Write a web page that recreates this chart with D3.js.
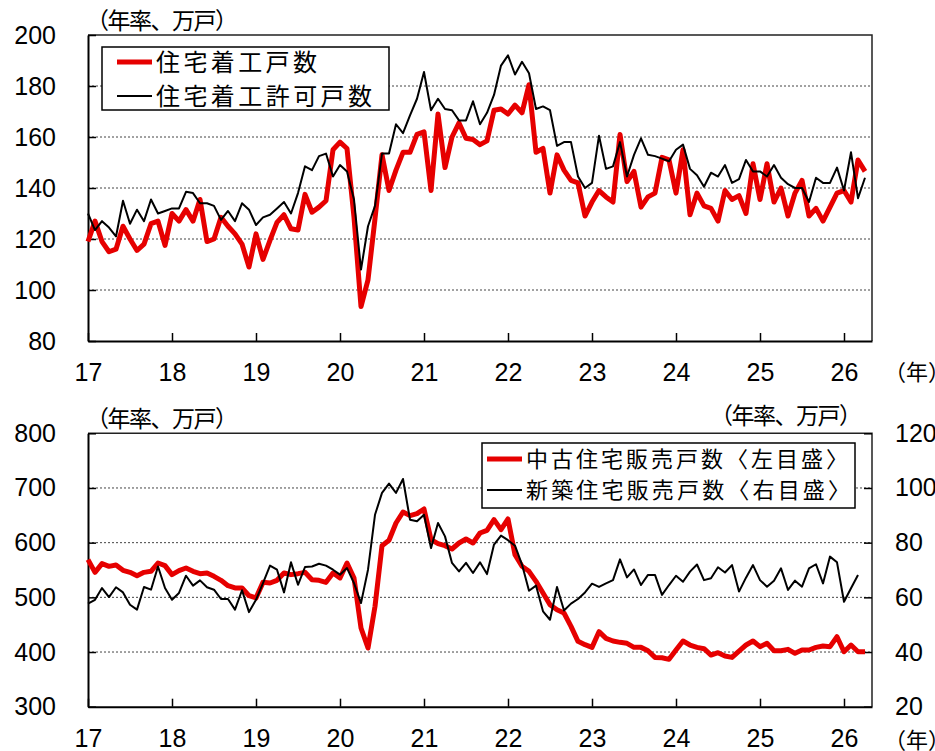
<!DOCTYPE html>
<html><head><meta charset="utf-8">
<script src="https://cdn.jsdelivr.net/npm/d3@7"></script>
<style>
body{margin:0;background:#fff}
svg{display:block}
.num{font-family:"Liberation Sans",Arial,sans-serif;font-size:25px;fill:#000}
.jp{font-family:"Noto Sans CJK JP","Noto Sans CJK SC",sans-serif;fill:#000}
</style>
</head><body>
<svg id="c" width="935" height="751"></svg>
<script>
// ---------- data ----------
const yearTicks = [2017,2018,2019,2020,2021,2022,2023,2024,2025,2026];
const yearLabels = ["17","18","19","20","21","22","23","24","25","26"];
const firstYear = 2017;           // first monthly observation: Jan 2017
const monthsOnAxis = 112;          // axis runs to Apr/May 2026

const topYTicks = [80,100,120,140,160,180,200];
const botLeftTicks = [300,400,500,600,700,800];
const botRightTicks = [20,40,60,80,100,120];

const unitLabel = "（年率、万戸）";
const yearUnit = "（年）";
const topLegend = ["住宅着工戸数","住宅着工許可戸数"];
const botLegend = ["中古住宅販売戸数〈左目盛〉","新築住宅販売戸数〈右目盛〉"];

// 住宅着工戸数 (annual rate, 10k units)
const housingStarts = [
119,127,119,115,116,125,120,115.5,118,126,127,117.5,
130,127,131.5,127,135.5,119,120,128.5,125,122,118,109,
122,112,119.5,126.5,129.5,124,123.5,137.5,130.5,132.5,135,155,
158,155.5,128.5,93.5,104,128,153,139,147,154,154,161,
162,139,169,148,160,165.5,159.5,159,157,158.5,170.5,171,
169,172.5,169.5,180.5,154,155.5,138,153,147,143,142,129,
134.5,139,136.5,134.5,161,142.5,146.5,132.5,136.5,138,152,151,
138,155,129.5,138,133,132,127,139,135.5,137,130,149.5,
135.5,149.5,134.5,140,129,138,143,129,132,127,132.5,138,
139,134.5,151,146.5];

// 住宅着工許可戸数
const buildingPermits = [
130,123.5,127,124.5,121,135,126,131.5,127,135.5,130,131,
132,132,138.5,138,134,134,133,127.5,131,127,134,131.5,
125.5,128.5,129.5,132,134.5,130,138,148.5,147,152.5,153.5,144.5,
149,146.5,135.5,108,125,133,153.5,153.5,165,161.5,168.5,175,
185.5,170.5,175,171,170.5,166.5,166.5,174,165,169.5,176.5,188,
192,184.5,189.5,185,171,172,170.5,156.5,158,158,144.5,140,
142,160.5,147.5,148.5,158,144.5,153,159.5,153,152.5,151.5,150.5,
155,157,147.5,145,140.5,146,144.5,149,142,143.5,151,146.5,
146.5,144.5,149,144,141.5,140,140,134.5,144,142,142,148,
139,154,136,144];

// 中古住宅販売戸数 (left axis)
const existingHomeSales = [
569,545.7,561.6,556.7,559,549.4,545.7,539.6,545.7,547.6,562.8,558,
541.5,548.8,553.7,547.6,543.3,544.5,538.4,531.1,521.3,517.1,517.1,503,
498.8,527.4,526.2,531.1,544.5,541.5,543.3,545.7,532.3,531.1,527.4,544.5,
535.4,562.8,535.4,443.9,407.3,483.5,594.5,604.3,636,656.1,649.4,653,
661.6,605.5,598.2,594.5,588.4,599.4,606.7,599.4,617.7,622.6,642.1,623.8,
643.3,578,556.7,547.6,529.3,507.9,486.6,477.4,471.3,447,419.5,413.4,
408.5,437.2,425,420.1,417.7,415.9,408.5,408.5,402.4,390.2,389.6,386.6,
403.7,420.1,412.8,408.5,406.1,394.5,398.8,392.7,390.2,401.8,412.8,420.1,
409.8,415.9,402.4,402.4,404.9,397.6,403.7,403.7,408.5,411,409.8,428,
400.6,412.8,400.6,400.6];

// 新築住宅販売戸数 (right axis)
const newHomeSales = [
57.7,59.1,63.4,60.1,63.7,61.8,57.3,55.5,63.8,62.8,71.3,63.4,
59.1,61.6,67.9,64.3,66.2,63.7,62.8,59.4,59.4,55.5,62.6,54.6,
59.1,65.2,71.6,70.1,61.8,72.8,64.6,71.1,71.3,72.3,71.6,70.1,
68.3,70.7,65.2,57.9,70.1,90.2,98.2,101.6,98.2,103.3,88.4,87.8,
90.2,78,87.2,82.3,72.6,69.5,72.6,68.9,72.8,68.5,79.3,82.6,
80.9,78.9,72,62.4,64.3,54.9,51.8,63.8,55.2,57.7,59.4,61.8,
65,63.8,65.1,66.3,73.9,67.3,70.2,64.5,68.2,68.2,60.9,64.5,
67.9,65.7,69.4,72,66.3,67,71,69.1,71.8,62.1,67.2,71.8,
66.3,63.9,66.1,70.6,62.7,66.1,63.9,70.6,72.1,65.1,74.9,72.8,
58.4,63.3,68.2];

// ---------- drawing ----------
const RED = "#e60000";
const svg = d3.select("#c");
const L = 88, R = 872;
const x = d3.scaleLinear().domain([firstYear, firstYear + monthsOnAxis/12]).range([L, R]);
const mx = i => x(firstYear + i/12);

function panel(cfg){
  const g = svg.append("g");
  const y = cfg.y;
  g.selectAll("line.grid").data(cfg.yTicks.filter(v => v !== y.domain()[0] && v !== y.domain()[1]))
    .enter().append("line")
    .attr("x1", L).attr("x2", R).attr("y1", d => y(d)).attr("y2", d => y(d))
    .attr("stroke", "#444").attr("stroke-width", 1).attr("stroke-dasharray", "2,2");
  g.append("path").attr("d", `M${L},${cfg.top}H${R}V${cfg.bottom}`)
    .attr("fill","none").attr("stroke","#222").attr("stroke-width",1.5);
  const ax = d3.axisLeft(y).tickValues(cfg.yTicks).tickSize(-8).tickSizeOuter(0).tickPadding(32);
  const ga = g.append("g").attr("transform", `translate(${L},0)`).call(ax);
  ga.select(".domain").attr("stroke","#000").attr("stroke-width",2);
  ga.selectAll(".tick line").attr("stroke","#000").attr("stroke-width",1.5);
  ga.selectAll(".tick text").attr("class","num").attr("font-size",null).attr("font-family",null);
  if (cfg.y2){
    const ar = d3.axisRight(cfg.y2).tickValues(cfg.y2Ticks).tickSize(-8).tickSizeOuter(0).tickPadding(23);
    const gr = g.append("g").attr("transform", `translate(${R},0)`).call(ar);
    gr.select(".domain").remove();
    gr.selectAll(".tick line").attr("stroke","#000").attr("stroke-width",1.5);
    gr.selectAll(".tick text").attr("class","num").attr("font-size",null).attr("font-family",null);
  }
  const bx = d3.axisBottom(x).tickValues(yearTicks).tickSize(-8).tickSizeOuter(0)
    .tickPadding(cfg.labelPad).tickFormat((d,i) => yearLabels[i]);
  const gb = g.append("g").attr("transform", `translate(0,${cfg.bottom})`).call(bx);
  gb.select(".domain").attr("stroke","#000").attr("stroke-width",2);
  gb.selectAll(".tick line").attr("stroke","#000").attr("stroke-width",1.5);
  gb.selectAll(".tick text").attr("class","num").attr("font-size",null).attr("font-family",null);
  return g;
}

// ---- top panel ----
const yTop = d3.scaleLinear().domain([80,200]).range([341,35]);
const gTop = panel({y:yTop, yTicks:topYTicks, top:35, bottom:341, labelPad:22});
const lineTop = d3.line().x((d,i) => mx(i)).y(d => yTop(d));
gTop.append("path").datum(housingStarts).attr("d", lineTop)
  .attr("fill","none").attr("stroke",RED).attr("stroke-width",5).attr("stroke-linejoin","round");
gTop.append("path").datum(buildingPermits).attr("d", lineTop)
  .attr("fill","none").attr("stroke","#000").attr("stroke-width",2).attr("stroke-linejoin","round");

gTop.append("rect").attr("x",102).attr("y",47).attr("width",287).attr("height",63)
  .attr("fill","#fff").attr("stroke","#000").attr("stroke-width",1.5);
gTop.append("line").attr("x1",117).attr("x2",152).attr("y1",62).attr("y2",62).attr("stroke",RED).attr("stroke-width",5);
gTop.append("line").attr("x1",117).attr("x2",152).attr("y1",96).attr("y2",96).attr("stroke","#000").attr("stroke-width",2);
gTop.append("text").attr("class","jp").attr("x",156).attr("y",62).attr("dy","0.36em").attr("font-size",24)
  .attr("textLength",161).attr("lengthAdjust","spacing").text(topLegend[0]);
gTop.append("text").attr("class","jp").attr("x",156).attr("y",96).attr("dy","0.36em").attr("font-size",24)
  .attr("textLength",216).attr("lengthAdjust","spacing").text(topLegend[1]);

svg.append("text").attr("class","jp").attr("x",86).attr("y",21).attr("dy","0.36em").attr("font-size",23)
  .attr("textLength",152).attr("lengthAdjust","spacing").text(unitLabel);
svg.append("text").attr("class","jp").attr("x",884).attr("y",372).attr("dy","0.36em").attr("font-size",22)
  .text(yearUnit);

// ---- bottom panel ----
const yBot = d3.scaleLinear().domain([300,800]).range([706.7,433.3]);
const yBotR = d3.scaleLinear().domain([20,120]).range([706.7,433.3]);
const gBot = panel({y:yBot, yTicks:botLeftTicks, y2:yBotR, y2Ticks:botRightTicks, top:433.3, bottom:706.7, labelPad:23});
gBot.append("path").datum(existingHomeSales)
  .attr("d", d3.line().x((d,i) => mx(i)).y(d => yBot(d)))
  .attr("fill","none").attr("stroke",RED).attr("stroke-width",5).attr("stroke-linejoin","round");
gBot.append("path").datum(newHomeSales)
  .attr("d", d3.line().x((d,i) => mx(i)).y(d => yBotR(d)))
  .attr("fill","none").attr("stroke","#000").attr("stroke-width",2).attr("stroke-linejoin","round");

gBot.append("rect").attr("x",482).attr("y",443).attr("width",373).attr("height",65)
  .attr("fill","#fff").attr("stroke","#000").attr("stroke-width",1.5);
gBot.append("line").attr("x1",487).attr("x2",522).attr("y1",459).attr("y2",459).attr("stroke",RED).attr("stroke-width",5);
gBot.append("line").attr("x1",487).attr("x2",522).attr("y1",490).attr("y2",490).attr("stroke","#000").attr("stroke-width",2);
gBot.append("text").attr("class","jp").attr("x",526).attr("y",459).attr("dy","0.36em").attr("font-size",22)
  .attr("textLength",322).attr("lengthAdjust","spacing").text(botLegend[0]);
gBot.append("text").attr("class","jp").attr("x",526).attr("y",490).attr("dy","0.36em").attr("font-size",22)
  .attr("textLength",324).attr("lengthAdjust","spacing").text(botLegend[1]);

svg.append("text").attr("class","jp").attr("x",86).attr("y",419).attr("dy","0.36em").attr("font-size",23)
  .attr("textLength",152).attr("lengthAdjust","spacing").text(unitLabel);
svg.append("text").attr("class","jp").attr("x",710).attr("y",416).attr("dy","0.36em").attr("font-size",23)
  .attr("textLength",152).attr("lengthAdjust","spacing").text(unitLabel);
svg.append("text").attr("class","jp").attr("x",884).attr("y",740).attr("dy","0.36em").attr("font-size",22)
  .text(yearUnit);
</script>
</body></html>
